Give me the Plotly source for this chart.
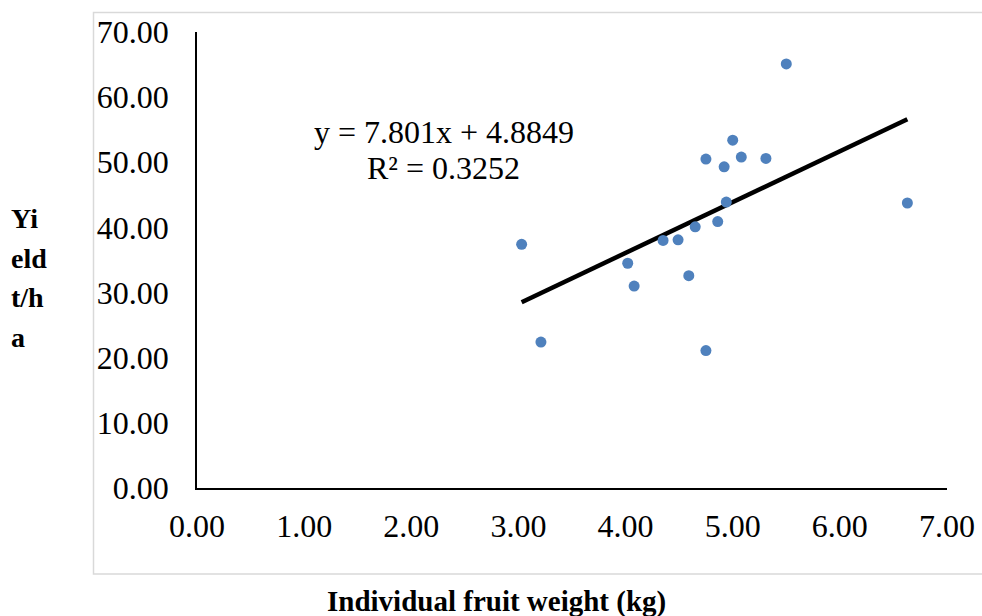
import plotly.graph_objects as go

# Data
fruit_weight = [5.50, 5.00, 4.75, 5.08, 5.31, 4.92, 4.94, 4.86, 4.65, 4.49,
                4.35, 4.02, 4.59, 4.08, 3.03, 3.21, 4.75, 6.63]
yield_tha = [65.1, 53.4, 50.5, 50.8, 50.6, 49.3, 43.9, 40.9, 40.1, 38.1,
             38.0, 34.5, 32.6, 31.0, 37.4, 22.4, 21.1, 43.75]
slope = 7.801
intercept = 4.8849
r_squared = 0.3252
x_ticks = [0, 1, 2, 3, 4, 5, 6, 7]
y_ticks = [0, 10, 20, 30, 40, 50, 60, 70]

FONT = "Liberation Serif, Times New Roman, serif"

x_min, x_max = min(fruit_weight), max(fruit_weight)
trend_x = [x_min, x_max]
trend_y = [slope * v + intercept for v in trend_x]

fig = go.Figure()
fig.add_trace(go.Scatter(
    x=trend_x, y=trend_y, mode="lines",
    line=dict(color="black", width=4.5), hoverinfo="skip", showlegend=False))
fig.add_trace(go.Scatter(
    x=fruit_weight, y=yield_tha, mode="markers",
    marker=dict(color="#4F81BD", size=11, line=dict(width=0)), showlegend=False))

W, H = 982, 616
L, R, T, B = 197, 35, 32, 128
pw, ph = W - L - R, H - T - B

def px(xp):
    return (xp - L) / pw

def py(yp):
    return (H - B - yp) / ph

fig.update_layout(
    width=W, height=H,
    margin=dict(l=L, r=R, t=T, b=B, autoexpand=False),
    paper_bgcolor="white", plot_bgcolor="white",
    font=dict(family=FONT, color="black", size=31),
    xaxis=dict(range=[0, 7], tickvals=x_ticks, tickformat=".2f",
               showgrid=False, zeroline=False, showline=True,
               linecolor="black", linewidth=1.5, ticks="",
               ticklabelstandoff=9, tickfont=dict(size=32, family=FONT)),
    yaxis=dict(range=[0, 70], tickvals=y_ticks, tickformat=".2f",
               showgrid=False, zeroline=False, showline=True,
               linecolor="black", linewidth=1.5, ticks="",
               ticklabelstandoff=20, tickfont=dict(size=32, family=FONT)),
    shapes=[dict(type="rect", xref="paper", yref="paper",
                 x0=px(93.5), x1=px(990), y0=py(574), y1=py(12.5),
                 line=dict(color="#D9D9D9", width=1.5), layer="below")],
)

annotations = [
    dict(text=f"y = {slope}x + {intercept}", x=px(443.5), y=py(132)),
    dict(text=f"R² = {r_squared}", x=px(443.5), y=py(168)),
]
for a in annotations:
    fig.add_annotation(xref="paper", yref="paper", showarrow=False,
                       xanchor="center", yanchor="middle",
                       font=dict(size=32, family=FONT, color="black"), **a)

fig.add_annotation(text="<b>Individual fruit weight (kg)</b>", xref="paper", yref="paper",
                   x=px(496), y=py(601), xanchor="center", yanchor="middle",
                   showarrow=False, font=dict(size=29, family=FONT, color="black"))

for txt, yc in [("Yi", 218), ("eld", 258), ("t/h", 297), ("a", 337)]:
    fig.add_annotation(text=f"<b>{txt}</b>", xref="paper", yref="paper",
                       x=px(9), y=py(yc), xanchor="left", yanchor="middle",
                       showarrow=False, font=dict(size=28, family=FONT, color="black"))

fig.write_html("out.html", config={"displayModeBar": False},
               post_script="document.body.style.margin='0';document.body.style.overflow='hidden';")
